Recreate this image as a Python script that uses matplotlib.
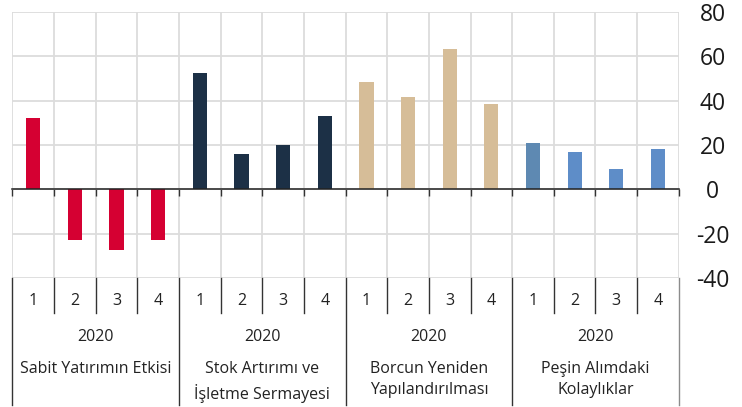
import numpy as np
import matplotlib
matplotlib.use("Agg")
import matplotlib.pyplot as plt
from matplotlib.lines import Line2D
from matplotlib.transforms import blended_transform_factory

plt.rcParams['font.family'] = ['Open Sans', 'DejaVu Sans']
plt.rcParams['axes.unicode_minus'] = False

# data
groups = ["Sabit Yatırımın Etkisi", "Stok Artırımı ve\nİşletme Sermayesi",
          "Borcun Yeniden\nYapılandırılması", "Peşin Alımdaki\nKolaylıklar"]
years = ["2020", "2020", "2020", "2020"]
quarters = ["1", "2", "3", "4"]
sabit = [32, -23, -27.5, -23]
stok = [52.5, 16, 20, 33]
borc = [48.5, 41.5, 63.5, 38.5]
pesin = [21, 17, 9, 18]
group_colors = ["#D50032", "#1C3046", "#D6BD98", "#5E8DC8"]

values = sabit + stok + borc + pesin
colors = [c for c in group_colors for _ in range(4)]
colors[12] = "#5E89B2"  # first blue bar is a bit duller
x = np.arange(len(values))

fig = plt.figure(figsize=(7.42, 4.07), dpi=100)
ax = fig.add_axes([0.0168, 0.317, 0.898, 0.6535])

ax.bar(x, values, width=0.34, color=colors, zorder=3)

ax.set_xlim(-0.5, len(values) - 0.5)
ax.set_ylim(-40, 80)
ax.set_yticks(np.arange(-40, 81, 20))
ax.yaxis.tick_right()
ax.tick_params(axis='y', length=0, pad=24.5, labelsize=16.5, labelcolor="#1a1a1a")
for lab in ax.get_yticklabels():
    lab.set_horizontalalignment('center')

# boundaries between quarters
ax.set_xticks(x)
ax.set_xticklabels([])
ax.tick_params(axis='x', which='major', length=0)
ax.set_xticks(np.arange(-0.5, len(values), 1), minor=True)
ax.tick_params(axis='x', which='minor', length=5, width=1, color="#333333", direction='out')

ax.grid(axis='y', which='major', color="#dcdcdc", lw=1.3, zorder=0)
ax.grid(axis='x', which='minor', color="#dcdcdc", lw=1.3, zorder=0)

for s in ['top', 'left', 'right']:
    ax.spines[s].set_visible(False)
ax.spines['bottom'].set_position(('data', 0))
ax.spines['bottom'].set_color("#222222")
ax.spines['bottom'].set_linewidth(1.1)
ax.spines['bottom'].set_zorder(4)

# category table below the axes
tr = blended_transform_factory(ax.transData, fig.transFigure)
H = 407.0
def fy(px):
    return 1 - px / H

for i, b in enumerate(np.arange(-0.5, len(values), 1)):
    if i % 4 == 0:
        y0, y1 = fy(278), fy(405)
    else:
        y0, y1 = fy(278), fy(313)
    col = "#8c8c8c" if i == len(values) else "#333333"
    fig.add_artist(Line2D([b, b], [y0, y1], transform=tr, color=col, lw=1))

for i in x:
    fig.text(i, fy(301), quarters[i % 4], transform=tr, ha='center', va='center',
             fontsize=11.5, color="#222222")

for g in range(len(groups)):
    cx = g * 4 + 1.5
    fig.text(cx, fy(337), years[g], transform=tr, ha='center', va='center',
             fontsize=11.5, color="#222222")
    fig.text(cx, fy(361), groups[g], transform=tr, ha='center', va='top',
             fontsize=11.5, color="#222222", linespacing=1.45)

fig.savefig("out.png", dpi=100)
